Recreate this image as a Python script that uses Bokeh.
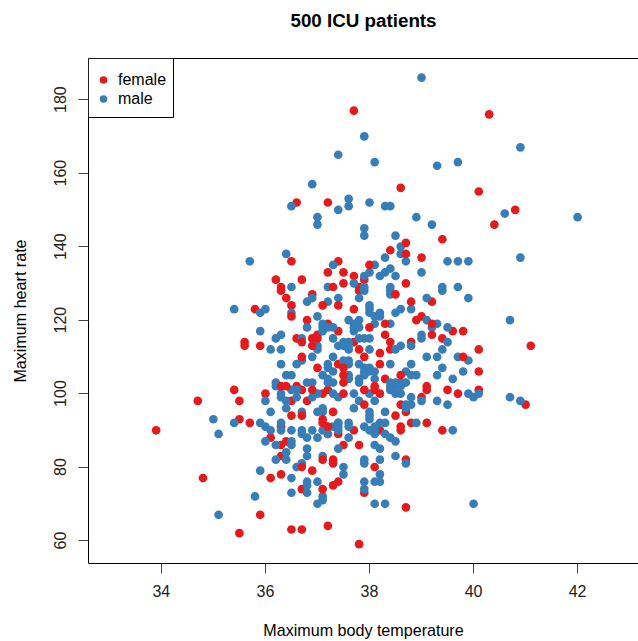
from bokeh.plotting import figure
from bokeh.embed import file_html
from bokeh.resources import INLINE
from bokeh.models import LinearAxis, FixedTicker, Range1d, Legend, LegendItem, BoxAnnotation

title_text = "500 ICU patients"
x_label = "Maximum body temperature"
y_label = "Maximum heart rate"
x_ticks = [34, 36, 38, 40, 42]
y_ticks = [60, 80, 100, 120, 140, 160, 180]
group_names = ["female", "male"]
group_colors = ["#E41A1C", "#377EB8"]

female_points = [
(35.8,123),(36.3,128),(36.2,131),(36.7,131),(36.4,126),(36.5,124),(36.5,121),(36.8,120),(35.6,114),(35.6,113),
(35.9,113),(36.6,115),(36.7,114),(36.7,110),(36.3,102),(36.4,102),(35.4,101),(35.5,98),(34.7,98),(36.0,100),
(36.6,102),(36.7,101),(36.5,98),(36.8,98),(36.7,94),(36.5,94),(35.5,93),(35.7,92),(36.3,91),(33.9,90),
(37.3,129),(37.5,130),(37.9,131),(38.7,130),(37.8,128),(38.5,127),(37.1,124),(37.4,124),(38.8,125),(39.2,125),
(37.7,123),(39.0,121),(38.9,120),(38.3,119),(38.0,118),(37.2,119),(37.4,117),(39.2,119),(39.6,117),(39.8,117),
(38.3,116),(39.2,116),(39.4,115),(37.7,114),(37.8,112),(38.4,114),(38.4,112),(38.8,114),(40.1,112),(38.2,111),
(37.9,110),(39.8,110),(37.4,108),(38.2,108),(37.0,107),(37.5,107),(38.6,105),(40.1,106),(37.5,105),(38.3,104),
(37.5,103),(39.1,102),(39.1,101),(39.5,101),(40.1,101),(37.9,101),(38.1,102),(38.1,101),(36.9,101),(37.2,101),
(37.1,100),(37.5,100),(38.2,100),(39.0,99),(39.7,100),(37.9,97),(38.6,97),(38.7,95),(38.5,94),(37.3,95),
(37.1,93),(37.1,92),(37.2,91),(38.6,91),(38.8,92),(39.1,92),(39.4,90),(36.9,127),(36.9,115),(37.0,115),
(36.9,113),(37.0,116),(34.8,77),(35.5,62),(35.9,67),(36.5,63),(36.7,63),(37.2,64),(37.8,59),(38.7,69),
(37.9,73),(38.1,80),(37.4,76),(37.3,75),(37.1,74),(36.7,74),(36.1,77),(36.3,78),(36.7,80),(36.9,79),
(37.3,82),(37.3,81),(36.3,83),(37.1,82),(37.5,86),(37.8,86),(38.7,82),(36.3,86),(36.4,87),(36.1,88),
(37.2,89),(37.4,89),(37.7,90),(38.2,90),(38.6,90),(38.6,156),(36.6,152),(37.2,152),(39.4,142),
(38.7,141),(38.4,139),(38.7,138),(36.5,136),(39.0,137),(37.4,136),(38.0,135),(37.2,133),(37.5,133),(37.7,132),
(36.3,129),(37.8,129),(37.7,177),(40.3,176),
(40.1,155),(40.8,150),(40.4,146),(41.1,113),(41.0,97),
]
female_drawn_last = [
(38.3,119),(38.0,118),(37.5,107),(37.5,105),(37.5,103),(37.5,100),(37.9,101),(38.1,102),(38.1,101),(38.5,127),
(36.7,80),(37.1,82),(37.1,74),(38.7,141),(38.7,138),(38.0,135),(37.9,97),(39.2,119),(39.2,116),(39.7,100),
(39.8,110),(38.6,105),(37.4,124),(37.1,124),(38.8,125),(37.3,129),(36.7,110),(36.7,114),(36.3,102),(36.4,102),
(36.5,94),(36.7,94),(36.5,121),(36.9,101),(37.0,115),(36.9,115),(36.9,113),(37.1,93),(37.1,92),(37.2,91),(39.4,142),
]
male_points = [
(35.4,123),(35.9,122),(36.0,123),(36.5,129),(36.8,125),(36.5,122),(36.8,118),(35.9,117),(36.2,115),(36.3,116),
(36.1,112),(36.3,112),(36.7,115),(36.6,108),(36.7,109),(36.3,108),(36.4,105),(36.5,105),(36.2,103),(36.2,102),
(36.0,98),(36.3,100),(36.3,99),(36.4,98),(36.5,101),(36.6,101),(36.8,103),(36.6,99),(36.4,96),(36.1,95),
(36.7,95),(35.0,93),(35.4,92),(35.9,92),(36.0,91),(36.1,90),(36.3,90),(36.5,90),(36.7,90),
(37.2,129),(37.7,130),(39.7,129),(39.4,128),(37.9,128),(38.4,128),(38.4,127),(39.1,126),(39.9,126),(37.4,126),
(37.8,126),(37.2,125),(38.0,124),(38.0,123),(38.0,122),(38.8,123),(38.6,123),(38.5,122),(38.2,122),(38.1,121),
(38.2,121),(37.0,121),(39.1,120),(37.6,120),(37.8,120),(38.1,119),(38.4,119),(37.7,119),(37.7,118),(37.7,117),
(37.8,118),(37.1,119),(37.1,118),(37.2,118),(37.3,118),(37.1,117),(39.2,118),(39.3,119),(39.5,118),(39.0,116),
(39.0,115),(39.5,114),(37.3,115),(37.8,115),(37.9,115),(38.0,115),(37.4,113),(37.5,114),(37.6,114),(37.5,113),
(37.6,113),(37.6,112),(38.0,112),(38.5,112),(38.6,113),(38.8,113),(39.4,112),(39.1,110),(39.3,110),(39.7,110),
(39.9,109),(37.3,110),(37.6,109),(37.5,109),(38.4,108),(38.8,108),(37.8,108),(37.2,108),(37.2,107),(37.6,108),
(37.9,107),(38.0,107),(38.0,106),(38.1,106),(37.9,106),(37.3,106),(39.4,107),(38.7,106),(38.8,105),(38.9,105),
(39.3,105),(39.8,106),(39.6,104),(37.1,105),(37.6,105),(37.8,104),(37.9,105),(38.1,104),(37.6,104),(37.2,104),
(37.2,103),(37.3,103),(37.8,103),(38.4,103),(38.5,103),(38.6,103),(38.7,103),(38.4,102),(38.5,102),(38.6,102),
(36.9,103),(37.3,100),(37.4,99),(37.7,100),(37.0,100),(36.9,99),(38.0,100),(38.4,101),(38.5,100),(38.6,100),
(38.8,99),(39.0,98),(39.3,98),(39.9,100),(40.0,99),(40.1,100),(39.5,97),(37.8,98),(37.7,96),(38.1,98),
(38.7,97),(38.8,97),(38.7,96),(38.3,95),(38.0,95),(38.0,94),(38.0,93),(37.1,96),(37.0,95),(37.1,95),
(37.4,92),(37.4,91),(37.3,91),(37.4,90),(37.6,92),(37.6,91),(37.9,91),(38.1,91),(38.2,92),(38.3,92),
(38.9,92),(39.6,90),(36.9,126),(37.0,113),(37.0,112),(36.9,110),
(35.1,89),(35.1,67),(38.3,70),(38.1,70),(37.0,70),(37.1,71),(37.1,72),(37.9,74),(37.9,76),(38.1,76),
(38.2,76),(38.2,78),(37.5,80),(37.5,78),(37.0,76),(36.8,76),(36.8,75),(36.8,73),(36.5,73),(36.5,77),
(35.8,72),(35.9,79),(36.6,80),(36.7,81),(37.9,82),(37.9,81),(38.2,82),(36.4,82),(36.2,82),(37.1,83),
(36.8,83),(36.8,85),(37.4,85),(38.1,86),(38.2,85),(38.5,83),(38.7,81),(36.0,87),(36.2,86),(36.5,86),
(36.5,87),(36.7,89),(36.8,88),(36.9,90),(37.0,88),(37.1,90),(37.2,89),
(37.6,88),(37.4,92),(38.0,90),(38.1,90),(38.1,89),(38.3,89),(38.4,88),
(38.5,87),(36.4,84),(36.3,92),
(38.1,163),(39.3,162),(39.7,163),(36.9,157),(36.5,151),(37.6,153),(37.6,151),(37.4,150),(38.0,152),(38.3,151),
(38.4,151),(37.0,148),(37.0,146),(38.9,148),(39.2,146),(37.9,145),(37.9,143),(38.5,143),(38.6,140),(38.6,138),
(36.4,138),(35.7,136),(38.3,137),(38.7,136),(39.5,136),(39.7,136),(39.9,136),(37.3,135),(38.1,135),(37.9,132),
(38.0,133),(38.4,134),(38.3,133),(38.2,132),(38.5,132),(39.0,133),(39.4,129),(39.0,186),(37.9,170),(40.9,167),
(37.4,165),(40.6,149),(42.0,148),(40.9,137),(40.7,120),(40.9,98),(40.7,99),(40.0,70),(37.9,129),(38.4,129),
]

p = figure(width=638, height=641, output_backend="svg", toolbar_location=None,
           x_range=Range1d(32.6, 43.17), y_range=Range1d(53.74, 191.2),
           x_axis_location=None, y_axis_location=None,
           min_border_left=88, min_border_right=0, min_border_top=58, min_border_bottom=78,
           outline_line_color=None, background_fill_color="white")
p.grid.visible = False

def column(points, i):
    return [pt[i] for pt in points]

under = [pt for pt in female_points if pt not in female_drawn_last]
r_f = p.scatter(column(under, 0), column(under, 1), size=8.7, color=group_colors[0], line_color=None)
r_m = p.scatter(column(male_points, 0), column(male_points, 1), size=8.7, color=group_colors[1], line_color=None)
p.scatter(column(female_drawn_last, 0), column(female_drawn_last, 1), size=8.7, color=group_colors[0], line_color=None)

FONT = "Liberation Sans"
xa = LinearAxis(ticker=FixedTicker(ticks=x_ticks), axis_label=x_label)
ya = LinearAxis(ticker=FixedTicker(ticks=y_ticks), axis_label=y_label)
top = LinearAxis(ticker=FixedTicker(ticks=[]), major_label_text_font_size="0px",
                 axis_label=title_text, major_tick_line_color=None, minor_tick_line_color=None)
for a in (xa, ya):
    a.major_tick_line_color = "#444444"
    a.major_tick_out = 10
    a.major_tick_in = 0
    a.minor_tick_line_color = None
    a.major_label_text_font = FONT
    a.major_label_text_font_size = "16px"
    a.major_label_text_color = "#222222"
    a.axis_label_text_font_size = "16.1px"
    a.axis_label_text_font_style = "normal"
for a in (xa, ya, top):
    a.axis_line_color = "black"
    a.axis_label_text_font = FONT
    a.axis_label_text_color = "black"
top.axis_label_text_font_size = "18.8px"
top.axis_label_text_font_style = "bold"
top.axis_label_standoff = 28
xa.major_label_standoff = 11
xa.axis_label_standoff = 21
ya.major_label_orientation = "vertical"
ya.major_label_standoff = 12
ya.axis_label_standoff = 23
p.add_layout(xa, "below")
p.add_layout(ya, "left")
p.add_layout(top, "above")

p.add_layout(BoxAnnotation(left=88, right=173, top=58, bottom=117,
                           left_units="canvas", right_units="canvas", top_units="canvas", bottom_units="canvas",
                           fill_color="white", fill_alpha=1, line_color="black", line_alpha=1, line_width=1))
legend = Legend(items=[LegendItem(label=group_names[0], renderers=[r_f]),
                       LegendItem(label=group_names[1], renderers=[r_m])],
                location=(5, 455), margin=0, padding=0, spacing=0,
                glyph_width=20, glyph_height=19, label_standoff=5,
                label_text_font=FONT, label_text_font_size="16px", label_text_color="black",
                border_line_color=None, background_fill_alpha=0)
p.add_layout(legend)

open("out.html", "w").write(file_html(p, INLINE))
